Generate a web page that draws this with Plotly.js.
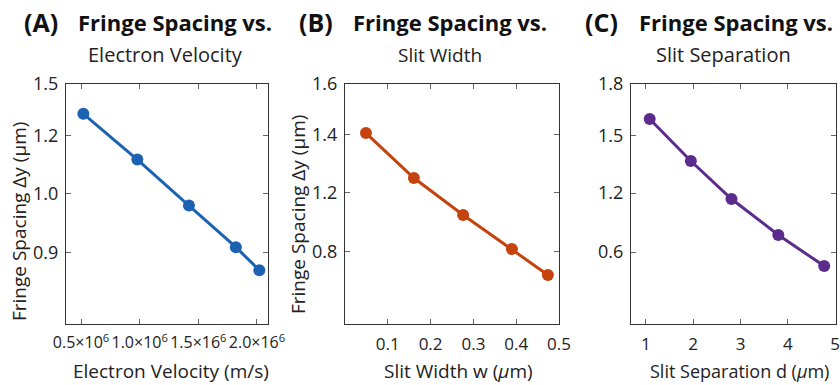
<!DOCTYPE html>
<html>
<head>
<meta charset="utf-8">
<script src="https://cdn.plot.ly/plotly-3.0.1.min.js"></script>
<style>html,body{margin:0;padding:0;background:#fff;}#chart{width:840px;height:385px;}</style>
</head>
<body>
<div id="chart"></div>
<script>
// Panel A: Fringe spacing vs electron velocity
const velocity = [0.52e6, 0.98e6, 1.42e6, 1.82e6, 2.02e6];
const spacingA = [1.364, 1.155, 0.945, 0.755, 0.65];
const xTickValsA = [0.5e6, 1.0e6, 1.5e6, 2.0e6];
const xTickTextA = ["0.5×10<sup>6</sup>", "1.0×10<sup>6</sup>", "1.5×16<sup>6</sup>", "2.0×16<sup>6</sup>"];
const yTickValsA = [1.5, 1.264, 1.0, 0.732];
const yTickTextA = ["1.5", "1.2", "1.0", "0.9"];

// Panel B: Fringe spacing vs slit width
const slitWidth = [0.049, 0.161, 0.276, 0.390, 0.474];
const spacingB = [1.420, 1.255, 1.119, 0.994, 0.899];
const xTickValsB = [0.1, 0.2, 0.3, 0.4, 0.5];
const xTickTextB = ["0.1", "0.2", "0.3", "0.4", "0.5"];
const yTickValsB = [1.6, 1.413, 1.2, 0.984];
const yTickTextB = ["1.6", "1.4", "1.2", "0.8"];

// Panel C: Fringe spacing vs slit separation
const slitSep = [1.08, 1.95, 2.81, 3.80, 4.77];
const spacingC = [1.607, 1.376, 1.167, 0.969, 0.798];
const xTickValsC = [1, 2, 3, 4, 5];
const xTickTextC = ["1", "2", "3", "4", "5"];
const yTickValsC = [1.8, 1.514, 1.2, 0.875];
const yTickTextC = ["1.8", "1.5", "1.2", "0.6"];

const colors = {A: "#1c62b3", B: "#c4430f", C: "#5b2c8c"};
const FONT = "Open Sans, Noto Sans, sans-serif";
const textColor = "#222222";

function trace(x, y, color, xa, ya) {
  return {x: x, y: y, xaxis: xa, yaxis: ya, type: "scatter", mode: "lines+markers",
    line: {color: color, width: 3}, marker: {color: color, size: 12}, showlegend: false, hoverinfo: "skip"};
}

function axisBase(extra) {
  return Object.assign({
    showline: true, linecolor: "#333", linewidth: 1.2, mirror: "ticks",
    ticks: "inside", ticklen: 5, tickcolor: "#666", tickwidth: 1,
    showgrid: false, zeroline: false, fixedrange: true,
    tickfont: {family: FONT, size: 17, color: textColor},
    tickmode: "array"
  }, extra);
}

const yDom = [1 - 324/385, 1 - 84/385];
const data = [
  trace(velocity, spacingA, colors.A, "x", "y"),
  trace(slitWidth, spacingB, colors.B, "x2", "y2"),
  trace(slitSep, spacingC, colors.C, "x3", "y3")
];

const yTickFont = {family: FONT, size: 18, color: textColor};

const layout = {
  width: 840, height: 385,
  margin: {l: 0, r: 0, t: 0, b: 0},
  paper_bgcolor: "#ffffff", plot_bgcolor: "#ffffff",
  font: {family: FONT, color: textColor},
  xaxis: axisBase({domain: [66/840, 268/840], range: [0.372e6, 2.094e6], tickvals: xTickValsA, ticktext: xTickTextA, tickfont: {family: FONT, size: 16, color: textColor}, ticklabelstandoff: 4, anchor: "y"}),
  yaxis: axisBase({domain: yDom, range: [0.4045, 1.5], tickvals: yTickValsA, ticktext: yTickTextA, tickfont: yTickFont, ticklabelstandoff: 3, anchor: "x"}),
  xaxis2: axisBase({domain: [345/840, 559/840], range: [0, 0.5], tickvals: xTickValsB, ticktext: xTickTextB, ticklabelstandoff: 4, anchor: "y2"}),
  yaxis2: axisBase({domain: yDom, range: [0.719, 1.6], tickvals: yTickValsB, ticktext: yTickTextB, tickfont: yTickFont, ticklabelstandoff: 3, anchor: "x2"}),
  xaxis3: axisBase({domain: [631/840, 836/840], range: [0.684, 5.02], tickvals: xTickValsC, ticktext: xTickTextC, ticklabelstandoff: 4, anchor: "y3"}),
  yaxis3: axisBase({domain: yDom, range: [0.479, 1.8], tickvals: yTickValsC, ticktext: yTickTextC, tickfont: yTickFont, ticklabelstandoff: 3, anchor: "x3"}),
  annotations: [
    // panel titles
    {text: "<b>(A)</b>", x: 22/840, y: 1 - 22/385, xanchor: "left", yanchor: "middle", font: {family: FONT, size: 25, color: "#111"}},
    {text: "<b>Fringe Spacing vs.</b>", x: 76/840, y: 1 - 22/385, xanchor: "left", yanchor: "middle", font: {family: FONT, size: 22, color: "#111"}},
    {text: "Electron Velocity", x: 165/840, y: 1 - 55/385, xanchor: "center", yanchor: "middle", font: {family: FONT, size: 20, color: textColor}},
    {text: "<b>(B)</b>", x: 297/840, y: 1 - 22/385, xanchor: "left", yanchor: "middle", font: {family: FONT, size: 25, color: "#111"}},
    {text: "<b>Fringe Spacing vs.</b>", x: 351/840, y: 1 - 22/385, xanchor: "left", yanchor: "middle", font: {family: FONT, size: 22, color: "#111"}},
    {text: "Slit Width", x: 440/840, y: 1 - 55/385, xanchor: "center", yanchor: "middle", font: {family: FONT, size: 19, color: textColor}},
    {text: "<b>(C)</b>", x: 583/840, y: 1 - 22/385, xanchor: "left", yanchor: "middle", font: {family: FONT, size: 25, color: "#111"}},
    {text: "<b>Fringe Spacing vs.</b>", x: 637/840, y: 1 - 22/385, xanchor: "left", yanchor: "middle", font: {family: FONT, size: 22, color: "#111"}},
    {text: "Slit Separation", x: 723/840, y: 1 - 55/385, xanchor: "center", yanchor: "middle", font: {family: FONT, size: 20, color: textColor}},
    // axis titles
    {text: "Electron Velocity (m/s)", x: 171/840, y: 1 - 371/385, xanchor: "center", yanchor: "middle", font: {family: FONT, size: 19, color: textColor}},
    {text: "Slit Width w (<i>μ</i>m)", x: 459/840, y: 1 - 371/385, xanchor: "center", yanchor: "middle", font: {family: FONT, size: 19, color: textColor}},
    {text: "Slit Separation d (<i>μ</i>m)", x: 739/840, y: 1 - 371/385, xanchor: "center", yanchor: "middle", font: {family: FONT, size: 18, color: textColor}},
    {text: "Fringe Spacing Δy (μm)", x: 19/840, y: 1 - 222/385, xanchor: "center", yanchor: "middle", textangle: -90, font: {family: FONT, size: 19, color: textColor}},
    {text: "Fringe Spacing Δy (μm)", x: 298/840, y: 1 - 215/385, xanchor: "center", yanchor: "middle", textangle: -90, font: {family: FONT, size: 19, color: textColor}}
  ].map(a => Object.assign({xref: "paper", yref: "paper", showarrow: false}, a))
};

Plotly.newPlot("chart", data, layout, {staticPlot: true, displayModeBar: false});
</script>
</body>
</html>
